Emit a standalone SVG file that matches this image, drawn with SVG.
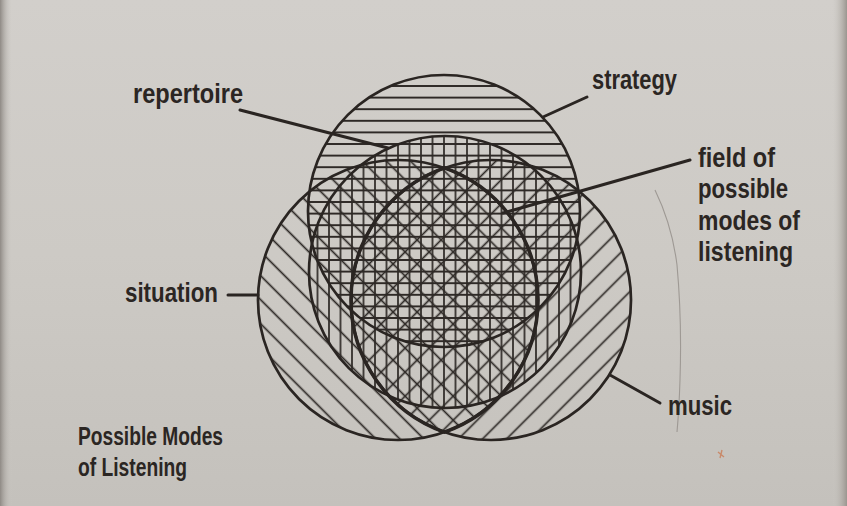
<svg xmlns="http://www.w3.org/2000/svg" width="847" height="506" viewBox="0 0 847 506">
  <defs>
    <linearGradient id="paper" x1="0" y1="0" x2="0" y2="1">
      <stop offset="0" stop-color="#d2cfcb"/>
      <stop offset="0.5" stop-color="#cdcac5"/>
      <stop offset="1" stop-color="#c4c1bc"/>
    </linearGradient>
    <linearGradient id="edgeL" x1="0" y1="0" x2="1" y2="0">
      <stop offset="0" stop-color="#8f8a85"/>
      <stop offset="1" stop-color="#cdcac5" stop-opacity="0"/>
    </linearGradient>
    <linearGradient id="edgeR" x1="0" y1="0" x2="1" y2="0">
      <stop offset="0" stop-color="#cdcac5" stop-opacity="0"/>
      <stop offset="1" stop-color="#9a958f"/>
    </linearGradient>
    <pattern id="hpat" patternUnits="userSpaceOnUse" x="0" y="80.2" width="40" height="11.6">
      <line x1="-1" y1="5.8" x2="41" y2="5.8" class="hatch"/>
    </pattern>
    <pattern id="vpat" patternUnits="userSpaceOnUse" x="438.25" y="0" width="11.5" height="40">
      <line x1="5.75" y1="-1" x2="5.75" y2="41" class="hatch"/>
    </pattern>
    <pattern id="dpatS" patternUnits="userSpaceOnUse" x="0" y="0" width="17" height="40" patternTransform="rotate(-45 444 300)">
      <line x1="8.5" y1="-1" x2="8.5" y2="41" class="hatch"/>
    </pattern>
    <pattern id="dpatM" patternUnits="userSpaceOnUse" x="0" y="0" width="17" height="40" patternTransform="rotate(45 444 300)">
      <line x1="8.5" y1="-1" x2="8.5" y2="41" class="hatch"/>
    </pattern>
  </defs>
  <style>
    .hatch { stroke: #2e2926; stroke-width: 1.7; fill: none; }
    .ring { fill: none; stroke: #2a2522; stroke-width: 2.7; }
    .lens { fill: none; stroke: #2a2522; stroke-width: 3.5; }
    .lead { fill: none; stroke: #2a2522; stroke-width: 3; stroke-linecap: round; }
    .lbl { font-family: "Liberation Sans", "DejaVu Sans", sans-serif; font-size: 28px; font-weight: bold; fill: #2b2623; }
    .cap { font-family: "Liberation Sans", "DejaVu Sans", sans-serif; font-size: 25px; font-weight: bold; fill: #2b2623; }
  </style>

  <!-- paper -->
  <rect x="0" y="0" width="847" height="506" fill="url(#paper)"/>
  <rect x="0" y="0" width="12" height="506" fill="url(#edgeL)"/>
  <rect x="832" y="0" width="15" height="506" fill="url(#edgeR)"/>
  <path d="M655,190 Q672,225 677,265 Q682,320 680,380 Q679,410 677,432" fill="none" stroke="#9e9994" stroke-width="1.1"/>
  <path d="M718,452 l6,5 M722,450 l-2,8" fill="none" stroke="#c98a6a" stroke-width="1.4"/>

  <!-- hatching fills -->
  <g id="hatching">
    <circle cx="444" cy="211" r="136" fill="url(#hpat)"/>
    <circle cx="445" cy="272" r="136" fill="url(#vpat)"/>
    <circle cx="398" cy="300" r="140" fill="url(#dpatS)"/>
    <circle cx="491" cy="300" r="140" fill="url(#dpatM)"/>
  </g>

  <g id="strategy">
    <circle class="ring" cx="444" cy="211" r="136"/>
    <text class="lbl" x="592" y="89" textLength="85" lengthAdjust="spacingAndGlyphs">strategy</text>
  </g>
  <g id="repertoire">
    <circle class="ring" cx="445" cy="272" r="136"/>
    <text class="lbl" x="133" y="103" textLength="110" lengthAdjust="spacingAndGlyphs">repertoire</text>
  </g>
  <g id="situation">
    <circle class="ring" cx="398" cy="300" r="140"/>
    <text class="lbl" x="125" y="302" textLength="93" lengthAdjust="spacingAndGlyphs">situation</text>
  </g>
  <g id="music">
    <circle class="ring" cx="491" cy="300" r="140"/>
    <text class="lbl" x="668" y="415" textLength="64" lengthAdjust="spacingAndGlyphs">music</text>
  </g>
  <g id="field">
    <path class="lens" d="M444.5,167.95 A140,140 0 0 1 444.5,432.05 A140,140 0 0 1 444.5,167.95 Z"/>
    <text class="lbl" x="698" y="167" textLength="77" lengthAdjust="spacingAndGlyphs">field of</text>
    <text class="lbl" x="698" y="198" textLength="90" lengthAdjust="spacingAndGlyphs">possible</text>
    <text class="lbl" x="698" y="230" textLength="102" lengthAdjust="spacingAndGlyphs">modes of</text>
    <text class="lbl" x="698" y="261" textLength="95" lengthAdjust="spacingAndGlyphs">listening</text>
  </g>

  <g id="connectors">
    <line class="lead" x1="240" y1="110" x2="388" y2="148"/>
    <line class="lead" x1="587" y1="97" x2="543" y2="117"/>
    <line class="lead" x1="690" y1="160" x2="503" y2="213"/>
    <line class="lead" x1="228" y1="295" x2="258" y2="295"/>
    <line class="lead" x1="610" y1="375" x2="660" y2="403"/>
  </g>

  <g id="caption">
    <text class="cap" x="78" y="445" textLength="145" lengthAdjust="spacingAndGlyphs">Possible Modes</text>
    <text class="cap" x="78" y="476" textLength="109" lengthAdjust="spacingAndGlyphs">of Listening</text>
  </g>
</svg>
